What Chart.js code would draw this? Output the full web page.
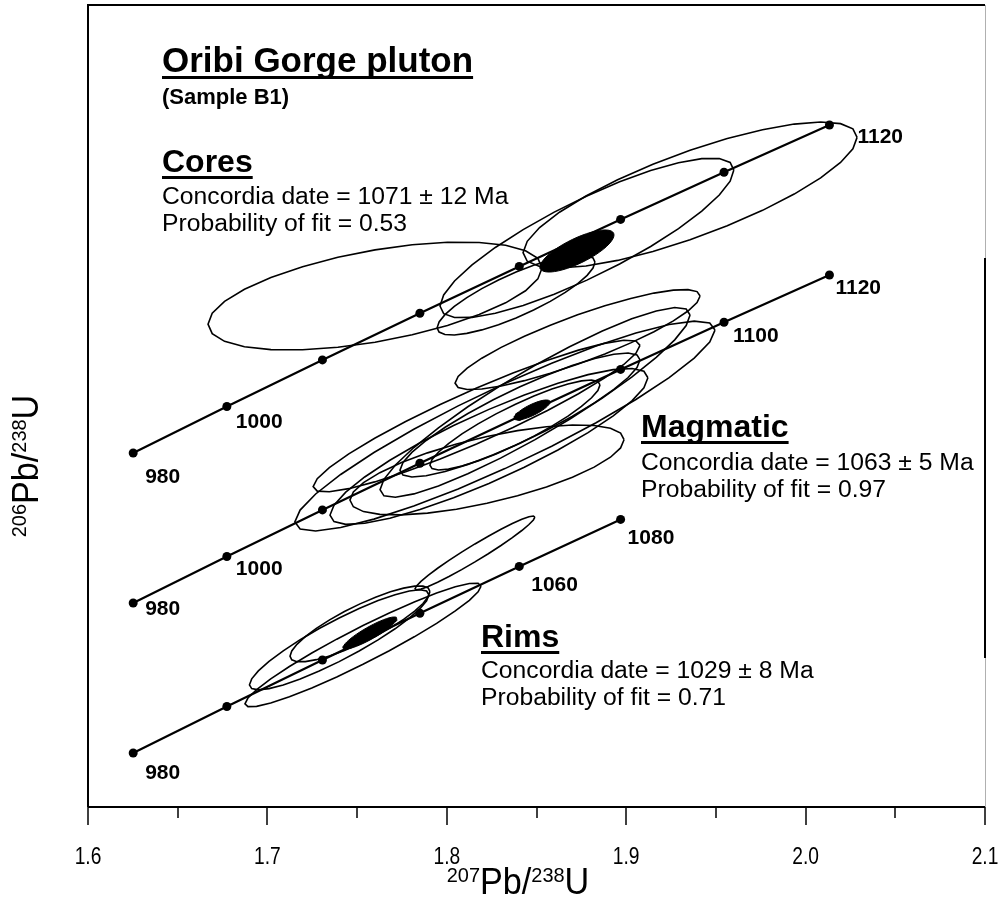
<!DOCTYPE html>
<html>
<head>
<meta charset="utf-8">
<script src="https://cdn.jsdelivr.net/npm/chart.js@4.4.1/dist/chart.umd.min.js"></script>
<style>
  html, body { margin: 0; padding: 0; background: #fff; }
  #wrap { position: relative; width: 1002px; height: 898px; }
</style>
</head>
<body>
<div id="wrap"><canvas id="concordia-chart" width="1002" height="898"></canvas></div>
<script>
// x axis ticks
const xMajorTicks = [1.6, 1.7, 1.8, 1.9, 2.0, 2.1];
const xTickLabels = ["1.6", "1.7", "1.8", "1.9", "2.0", "2.1"];
const xMinorTicks = [1.65, 1.75, 1.85, 1.95, 2.05];

// concordia reference points (age in Ma, 207Pb/235U, 206Pb/238U)
const concAges = [980, 1000, 1020, 1040, 1060, 1080, 1100, 1120];
const conc207 = [1.62519, 1.67741, 1.73067, 1.78499, 1.84039, 1.89689, 1.95452, 2.01329];
const conc206 = [0.16418, 0.16780, 0.17143, 0.17507, 0.17872, 0.18238, 0.18606, 0.18974];
const rimsLastAge = 1080;

// labelled ages on each concordia
const coresLabelAges = [980, 1000, 1120];
const magmaticLabelAges = [980, 1000, 1100, 1120];
const rimsLabelAges = [980, 1060, 1080];

// analyses: centre, 2s errors, error correlation
const coresX   = [1.7600, 1.9356, 1.8781, 1.8386];
const coresY   = [0.17641, 0.18428, 0.18093, 0.17649];
const coresSx  = [0.0931, 0.0931, 0.0819, 0.0440];
const coresSy  = [0.00421, 0.00569, 0.00623, 0.00312];
const coresRho = [0.52, 0.79, 0.85, 0.82];

const magmaticX   = [1.8729, 1.8166, 1.8324, 1.8235, 1.8224, 1.8408, 1.8380, 1.8492];
const magmaticY   = [0.18471, 0.17875, 0.17797, 0.17638, 0.17455, 0.17883, 0.17805, 0.17981];
const magmaticSx  = [0.0683, 0.0911, 0.1171, 0.0886, 0.0764, 0.0669, 0.0474, 0.0864];
const magmaticSy  = [0.00390, 0.00592, 0.00818, 0.00608, 0.00351, 0.00483, 0.00351, 0.00740];
const magmaticRho = [0.87, 0.93, 0.914, 0.88, 0.67, 0.89, 0.89, 0.92];

const rimsX   = [1.8157, 1.7516, 1.7533, 1.7400];
const rimsY   = [0.17977, 0.17424, 0.17260, 0.17300];
const rimsSx  = [0.0334, 0.0390, 0.0658, 0.0500];
const rimsSy  = [0.00288, 0.00296, 0.00483, 0.00390];
const rimsRho = [0.97, 0.85, 0.95, 0.90];

// concordia age ellipses (filled)
const ageX   = [1.8726, 1.8475, 1.7572];
const ageY   = [0.17992, 0.17922, 0.17353];
const ageSx  = [0.0206, 0.0100, 0.0150];
const ageSy  = [0.00164, 0.00078, 0.00125];
const ageRho = [0.76, 0.80, 0.90];

function ellipse(cx, cy, sx, sy, rho, n) {
  const pts = [];
  const k = Math.sqrt(1 - rho * rho);
  for (let i = 0; i <= n; i++) {
    const t = 2 * Math.PI * i / n;
    pts.push({ x: cx + sx * Math.cos(t), y: cy + sy * (rho * Math.cos(t) + k * Math.sin(t)) });
  }
  return pts;
}

function concordiaPoints(lastAge) {
  const pts = [];
  concAges.forEach((a, i) => { if (a <= lastAge) pts.push({ x: conc207[i], y: conc206[i] }); });
  return pts;
}

const datasets = [];
const panels = [
  { axis: "yCores", X: coresX, Y: coresY, Sx: coresSx, Sy: coresSy, R: coresRho, last: 1120 },
  { axis: "yMagmatic", X: magmaticX, Y: magmaticY, Sx: magmaticSx, Sy: magmaticSy, R: magmaticRho, last: 1120 },
  { axis: "yRims", X: rimsX, Y: rimsY, Sx: rimsSx, Sy: rimsSy, R: rimsRho, last: rimsLastAge },
];

panels.forEach((p, j) => {
  // filled concordia age ellipse on top
  datasets.push({
    data: ellipse(ageX[j], ageY[j], ageSx[j], ageSy[j], ageRho[j], 48),
    yAxisID: p.axis, showLine: true, pointRadius: 0, borderWidth: 1,
    borderColor: "#000", backgroundColor: "#000", fill: "shape", order: 0
  });
  datasets.push({
    data: concordiaPoints(p.last),
    yAxisID: p.axis, showLine: true, borderWidth: 2.2, borderColor: "#000",
    pointRadius: 4.5, pointBackgroundColor: "#000", pointBorderWidth: 0, order: 1
  });
  p.X.forEach((x, i) => {
    datasets.push({
      data: ellipse(x, p.Y[i], p.Sx[i], p.Sy[i], p.R[i], 28),
      yAxisID: p.axis, showLine: true, pointRadius: 0, borderWidth: 1.6,
      borderColor: "#000", fill: false, order: 2
    });
  });
});

const labelOffsets = {
  yCores:    { 980: [12, 30], 1000: [9, 21], 1120: [28, 18] },
  yMagmatic: { 980: [12, 12], 1000: [9, 18], 1100: [9, 20], 1120: [6, 19] },
  yRims:     { 980: [12, 26], 1060: [12, 25], 1080: [7, 25] }
};
const labelLists = { yCores: coresLabelAges, yMagmatic: magmaticLabelAges, yRims: rimsLabelAges };

const SANS = '"Liberation Sans", Arial, Helvetica, sans-serif';

function underlined(ctx, text, x, y, font, lineY, thick) {
  ctx.font = font;
  ctx.fillText(text, x, y);
  const w = ctx.measureText(text).width;
  ctx.fillRect(x, lineY, w, thick);
}

function ratioLabel(ctx, a, b, big, small) {
  const parts = [[a, small, -12], ["Pb/", big, 0], [b, small, -12], ["U", big, 0]];
  let w = 0;
  parts.forEach(p => { ctx.font = p[1]; p.push(ctx.measureText(p[0]).width); w += p[3]; });
  return { parts, w };
}

const decorPlugin = {
  id: "decor",
  afterDraw(chart) {
    const ctx = chart.ctx;
    const xs = chart.scales.x;
    const area = chart.chartArea;
    ctx.save();
    ctx.fillStyle = "#000";
    ctx.strokeStyle = "#000";

    // frame
    ctx.lineWidth = 2;
    ctx.beginPath();
    ctx.moveTo(area.left, area.bottom); ctx.lineTo(area.left, area.top);
    ctx.lineTo(area.right, area.top);
    ctx.moveTo(area.left, area.bottom); ctx.lineTo(area.right, area.bottom);
    ctx.stroke();
    ctx.strokeStyle = "#b0b0b0"; ctx.lineWidth = 1;
    ctx.beginPath(); ctx.moveTo(area.right + 0.5, area.top); ctx.lineTo(area.right + 0.5, area.bottom); ctx.stroke();
    ctx.strokeStyle = "#000"; ctx.lineWidth = 2;
    ctx.beginPath(); ctx.moveTo(area.right, 258); ctx.lineTo(area.right, 658); ctx.stroke();

    // ticks
    ctx.lineWidth = 1.5;
    xMajorTicks.forEach(v => {
      const px = Math.round(xs.getPixelForValue(v));
      ctx.beginPath(); ctx.moveTo(px, area.bottom); ctx.lineTo(px, area.bottom + 18); ctx.stroke();
    });
    xMinorTicks.forEach(v => {
      const px = Math.round(xs.getPixelForValue(v));
      ctx.beginPath(); ctx.moveTo(px, area.bottom); ctx.lineTo(px, area.bottom + 11); ctx.stroke();
    });
    ctx.textAlign = "center"; ctx.textBaseline = "alphabetic";
    xMajorTicks.forEach((v, i) => {
      const px = xs.getPixelForValue(v);
      ctx.save(); ctx.translate(px, 864); ctx.scale(0.8, 1);
      ctx.font = "24px " + SANS;
      ctx.fillText(xTickLabels[i], 0, 0);
      ctx.restore();
    });

    // axis titles
    const drawRatio = (a, b, cx, cy, rot) => {
      ctx.save(); ctx.translate(cx, cy); ctx.rotate(rot); ctx.scale(0.95, 1);
      ctx.textAlign = "left";
      const r = ratioLabel(ctx, a, b, "36px " + SANS, "21px " + SANS);
      let x = -r.w / 2;
      r.parts.forEach(p => { ctx.font = p[1]; ctx.fillText(p[0], x, p[2]); x += p[3]; });
      ctx.restore();
    };
    drawRatio("207", "238", 518, 894, 0);
    drawRatio("206", "238", 38, 466, -Math.PI / 2);

    // concordia age labels
    ctx.textAlign = "left";
    ctx.font = "bold 21px " + SANS;
    Object.keys(labelLists).forEach(axis => {
      const ys = chart.scales[axis];
      labelLists[axis].forEach(age => {
        const i = concAges.indexOf(age);
        const off = labelOffsets[axis][age];
        ctx.fillText(String(age), xs.getPixelForValue(conc207[i]) + off[0], ys.getPixelForValue(conc206[i]) + off[1]);
      });
    });

    // title and annotations
    const head = "bold 32px " + SANS;
    const reg = "24.7px " + SANS;
    underlined(ctx, "Oribi Gorge pluton", 162, 72, "bold 35px " + SANS, 76, 3);
    ctx.font = "bold 22px " + SANS; ctx.fillText("(Sample B1)", 162, 104);

    underlined(ctx, "Cores", 162, 172, head, 176, 3);
    ctx.font = reg;
    ctx.fillText("Concordia date = 1071 \u00b1 12 Ma", 162, 204);
    ctx.fillText("Probability of fit = 0.53", 162, 231);

    underlined(ctx, "Magmatic", 641, 437, head, 441, 3);
    ctx.font = reg;
    ctx.fillText("Concordia date = 1063 \u00b1 5 Ma", 641, 470);
    ctx.fillText("Probability of fit = 0.97", 641, 497);

    underlined(ctx, "Rims", 481, 647, head, 651, 3);
    ctx.font = reg;
    ctx.fillText("Concordia date = 1029 \u00b1 8 Ma", 481, 678);
    ctx.fillText("Probability of fit = 0.71", 481, 705);

    ctx.restore();
  }
};

const hiddenY = (min, max) => ({ type: "linear", min, max, display: false });

new Chart(document.getElementById("concordia-chart"), {
  type: "scatter",
  data: { datasets },
  options: {
    responsive: false,
    devicePixelRatio: 1,
    animation: false,
    layout: { padding: { left: 88, right: 17, top: 5, bottom: 91 } },
    plugins: { legend: { display: false }, tooltip: { enabled: false } },
    elements: { line: { tension: 0 } },
    scales: {
      x: { type: "linear", min: 1.6, max: 2.1, display: false },
      yCores: hiddenY(0.13659, 0.19909),
      yMagmatic: hiddenY(0.14828, 0.21078),
      yRims: hiddenY(0.15997, 0.22247)
    }
  },
  plugins: [decorPlugin]
});
</script>
</body>
</html>
